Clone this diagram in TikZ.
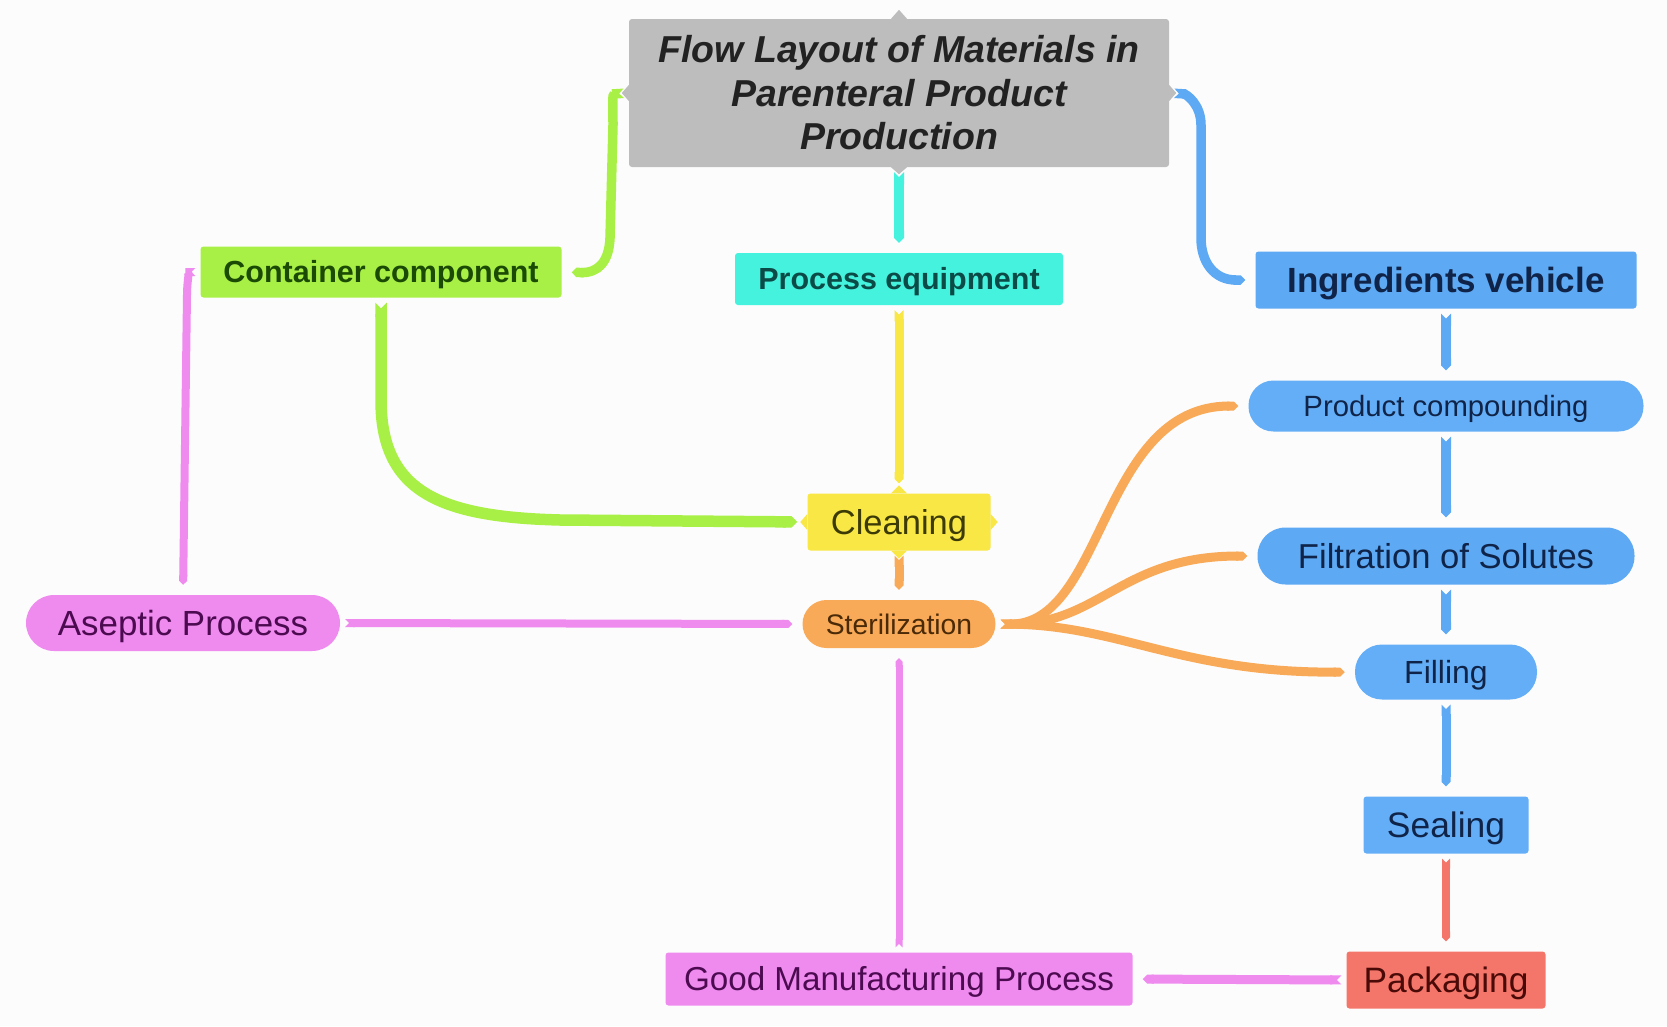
\documentclass[tikz,border=0pt]{standalone}
\usepackage{fontspec}
\setmainfont{Liberation Sans}
\usetikzlibrary{arrows.meta}
\definecolor{bgc}{HTML}{FCFCFC}
\definecolor{titleg}{HTML}{BDBDBD}
\definecolor{titlet}{HTML}{222222}
\definecolor{limef}{HTML}{A8F046}
\definecolor{limet}{HTML}{1B4A05}
\definecolor{turqf}{HTML}{44F2DE}
\definecolor{turqt}{HTML}{0B4A46}
\definecolor{bluef}{HTML}{5DA9F4}
\definecolor{bluel}{HTML}{63AEF6}
\definecolor{bluet}{HTML}{0F2448}
\definecolor{yelf}{HTML}{F8E744}
\definecolor{yelt}{HTML}{3C3A06}
\definecolor{orf}{HTML}{F8AA58}
\definecolor{ort}{HTML}{4A2A08}
\definecolor{pinkf}{HTML}{EF8BEF}
\definecolor{pinkt}{HTML}{4C0A50}
\definecolor{redf}{HTML}{F47569}
\definecolor{redt}{HTML}{4A0A08}
\begin{document}
\begin{tikzpicture}[x=1pt,y=-1pt,
  box/.style={inner sep=0pt, rounded corners=3pt, align=center},
  one/.style={text depth=0pt, text height=#1},
  conn/.style={line cap=butt, {Triangle Cap[reversed]}-{Triangle Cap}, shorten <=5pt, shorten >=10pt}]
\fill[bgc] (0,0) rectangle (1667,1026);
\useasboundingbox (0,0) rectangle (1667,1026);

% nodes
\node[box, fill=titleg, text=titlet, minimum width=540pt, minimum height=148pt,
  font=\fontsize{37.5}{43.6}\selectfont\bfseries\itshape] (title) at (899,93)
  {Flow Layout of Materials in\\Parenteral Product\\Production};
\node[box, one=21.8pt, fill=limef, text=limet, minimum width=361pt, minimum height=51pt,
  font=\fontsize{30.5}{34}\selectfont\bfseries] (cont) at (381,272) {Container component};
\node[box, one=21.8pt, fill=turqf, text=turqt, minimum width=328pt, minimum height=52pt,
  font=\fontsize{30.5}{34}\selectfont\bfseries] (proc) at (899,279) {Process equipment};
\node[box, one=25.1pt, fill=bluef, text=bluet, minimum width=381pt, minimum height=57pt,
  font=\fontsize{35}{40}\selectfont\bfseries] (ingr) at (1446,280) {Ingredients vehicle};
\node[box, one=21pt, fill=bluel, text=bluet, minimum width=395pt, minimum height=51pt, rounded corners=25pt,
  font=\fontsize{29.3}{33}\selectfont] (prod) at (1446,406) {Product compounding};
\node[box, one=24.7pt, fill=yelf, text=yelt, minimum width=183pt, minimum height=57pt,
  font=\fontsize{34.5}{38}\selectfont] (clean) at (899,522) {Cleaning};
\node[box, one=24.8pt, fill=bluef, text=bluet, minimum width=377pt, minimum height=57pt, rounded corners=28pt,
  font=\fontsize{34.6}{38}\selectfont] (filt) at (1446,556) {Filtration of Solutes};
\node[box, one=25pt, fill=pinkf, text=pinkt, minimum width=314pt, minimum height=56pt, rounded corners=28pt,
  font=\fontsize{34.9}{38}\selectfont] (asep) at (183,623) {Aseptic Process};
\node[box, one=20.3pt, fill=orf, text=ort, minimum width=193pt, minimum height=48pt, rounded corners=24pt,
  font=\fontsize{28.3}{32}\selectfont] (ster) at (899,624) {Sterilization};
\node[box, one=22.9pt, fill=bluel, text=bluet, minimum width=182pt, minimum height=55pt, rounded corners=27pt,
  font=\fontsize{32}{36}\selectfont] (fill) at (1446,672) {Filling};
\node[box, one=25.3pt, fill=bluel, text=bluet, minimum width=165pt, minimum height=57pt,
  font=\fontsize{35.4}{39}\selectfont] (seal) at (1446,825) {Sealing};
\node[box, one=25.3pt, fill=redf, text=redt, minimum width=199pt, minimum height=57pt,
  font=\fontsize{35.3}{39}\selectfont] (pack) at (1446,980) {Packaging};
\node[box, one=23.8pt, fill=pinkf, text=pinkt, minimum width=467pt, minimum height=53pt,
  font=\fontsize{33.2}{37}\selectfont] (gmp) at (899,979) {Good Manufacturing Process};

% ports on title and cleaning
\fill[titleg] ([xshift=-8pt]title.north) -- ([yshift=9pt]title.north) -- ([xshift=8pt]title.north) -- cycle;
\fill[titleg] ([xshift=-8pt]title.south) -- ([yshift=-7pt]title.south) -- ([xshift=8pt]title.south) -- cycle;
\fill[titleg] ([yshift=-8pt]title.west) -- ([xshift=-7pt]title.west) -- ([yshift=8pt]title.west) -- cycle;
\fill[titleg] ([yshift=-8pt]title.east) -- ([xshift=7pt]title.east) -- ([yshift=8pt]title.east) -- cycle;
\fill[yelf] ([xshift=-8pt]clean.north) -- ([yshift=8pt]clean.north) -- ([xshift=8pt]clean.north) -- cycle;
\fill[yelf] ([xshift=-8pt]clean.south) -- ([yshift=-8pt]clean.south) -- ([xshift=8pt]clean.south) -- cycle;
\fill[yelf] ([yshift=-8pt]clean.west) -- ([xshift=-7pt]clean.west) -- ([yshift=8pt]clean.west) -- cycle;
\fill[yelf] ([yshift=-8pt]clean.east) -- ([xshift=7pt]clean.east) -- ([yshift=8pt]clean.east) -- cycle;

% connectors
\draw[conn, limef, line width=9.5pt] (title.west) .. controls (612,94) and (613,104) .. (613,125)
   -- (610,238) .. controls (609,262) and (598,273) .. (cont.east);
\draw[conn, bluef, line width=9.5pt] (title.east) .. controls (1186,94) and (1201,104) .. (1201,125)
   -- (1201,238) .. controls (1201,262) and (1214,280) .. (ingr.west);
\draw[conn, turqf, line width=10pt] (title.south) -- (proc.north);
\draw[conn, yelf, line width=9pt] (proc.south) -- (clean.north);
\draw[conn, orf, line width=9pt] (clean.south) -- (ster.north);
\draw[conn, limef, line width=11.5pt] (cont.south) -- (381,400) .. controls (381,492) and (440,517) .. (560,520) -- (clean.west);
\draw[conn, pinkf, line width=8pt] (cont.west) .. controls (190,272) and (187,280) .. (187,295) -- (asep.north);
\draw[conn, pinkf, line width=8pt] (asep.east) -- (ster.west);
\draw[conn, pinkf, line width=7pt] (gmp.north) -- (ster.south);
\draw[conn, orf, line width=9pt] (ster.east) .. controls (1105,625) and (1100,406) .. (prod.west);
\draw[conn, orf, line width=9pt] (ster.east) .. controls (1100,625) and (1120,556) .. (filt.west);
\draw[conn, orf, line width=9pt] (ster.east) .. controls (1120,625) and (1180,673) .. (fill.west);
\draw[conn, bluef, line width=10pt] (ingr.south) -- (prod.north);
\draw[conn, bluef, line width=10pt] (prod.south) -- (filt.north);
\draw[conn, bluef, line width=10pt] (filt.south) -- (fill.north);
\draw[conn, bluef, line width=9pt] (fill.south) -- (seal.north);
\draw[conn, redf, line width=8pt] (seal.south) -- (pack.north);
\draw[conn, pinkf, line width=9pt] (pack.west) -- (gmp.east);
\end{tikzpicture}
\end{document}
